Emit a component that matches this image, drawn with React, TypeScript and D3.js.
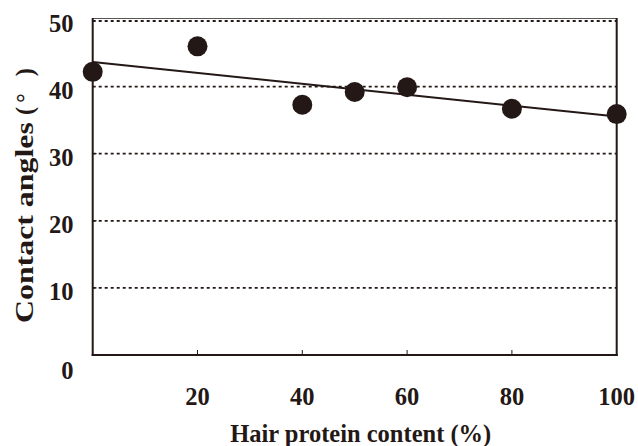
import React from "react";
import * as d3 from "d3";

const proteinContent = [0, 20, 40, 50, 60, 80, 100];
const contactAngles = [42.2, 46.0, 37.3, 39.2, 39.9, 36.7, 35.9];
const yTicks = [0, 10, 20, 30, 40, 50];
const xTicks = [20, 40, 60, 80, 100];
const gridValues = [10, 20, 30, 40, 50];

const W = 638, H = 446;
const M = { left: 92.7, right: 616.7, top: 19.5, bottom: 355 };
const INK = "#231815";
const FONT = "'Liberation Serif', 'Times New Roman', serif";
const FS = 24.5;
const YSTRETCH = 1.3;

export default function App() {
  const x = d3.scaleLinear().domain([0, 100]).range([M.left, M.right]);
  const y = d3.scaleLinear().domain([0, 50]).range([M.bottom, M.top]);

  const n = proteinContent.length;
  const mx = d3.mean(proteinContent)!;
  const my = d3.mean(contactAngles)!;
  let sxy = 0, sxx = 0;
  for (let i = 0; i < n; i++) {
    sxy += (proteinContent[i] - mx) * (contactAngles[i] - my);
    sxx += (proteinContent[i] - mx) ** 2;
  }
  const slope = sxy / sxx;
  const intercept = my - slope * mx;
  const fit = (v: number) => intercept + slope * v;

  const tProps = { fontFamily: FONT, fontWeight: "bold", fontSize: FS, fill: INK } as const;

  return (
    <svg width={W} height={H} style={{ position: "absolute", left: 0, top: 0 }}>
      <rect x={0} y={0} width={W} height={H} fill="#fff" />
      {gridValues.map((g) => (
        <line key={g} x1={M.left} x2={M.right} y1={y(g) + (g === 50 ? 1.5 : 0)} y2={y(g) + (g === 50 ? 1.5 : 0)}
          stroke={INK} strokeWidth={1.8} strokeDasharray="3,3" />
      ))}
      <line x1={M.left} x2={M.right} y1={M.top - 1} y2={M.top - 1} stroke="#555" strokeWidth={1} />
      <line x1={M.left} x2={M.left} y1={M.top - 1.5} y2={M.bottom + 1} stroke={INK} strokeWidth={2} />
      <line x1={M.left - 1} x2={M.right + 1} y1={M.bottom} y2={M.bottom} stroke={INK} strokeWidth={2} />
      <line x1={M.right} x2={M.right} y1={M.top - 1.5} y2={M.bottom + 1} stroke={INK} strokeWidth={2} />
      {[10, 20, 30].map((t) => (
        <line key={t} x1={M.left} x2={M.left + 4} y1={y(t)} y2={y(t)} stroke={INK} strokeWidth={1} />
      ))}
      {[20, 40, 60, 80].map((t) => (
        <line key={t} x1={x(t)} x2={x(t)} y1={M.bottom} y2={M.bottom - 5} stroke={INK} strokeWidth={1} />
      ))}
      <line x1={x(0)} y1={y(fit(0))} x2={x(100)} y2={y(fit(100))} stroke={INK} strokeWidth={2} />
      {proteinContent.map((p, i) => (
        <circle key={i} cx={x(p)} cy={y(contactAngles[i])} r={10} fill={INK} />
      ))}
      {yTicks.map((t) => (
        <text key={t} x={73.5} y={y(t) + (t === 0 ? 24 : 12)} textAnchor="end" {...tProps}>{t}</text>
      ))}
      {xTicks.map((t) => (
        <text key={t} x={x(t)} y={405} textAnchor="middle" {...tProps}>{t}</text>
      ))}
      <text x={360.7} y={441.5} textAnchor="middle" {...tProps}>
        Hair protein content (%)
      </text>
      <g transform="translate(33,0) rotate(-90)">
        <g transform={`translate(-323,0) scale(${YSTRETCH},1)`}>
          <text x={0} y={0} textAnchor="start" {...tProps}>Contact angles</text>
        </g>
        <text x={-115} y={0} textAnchor="start" {...tProps}>(</text>
        <text x={-103} y={0} textAnchor="start" {...tProps}>°</text>
        <text x={-68} y={0} textAnchor="end" {...tProps}>)</text>
      </g>
    </svg>
  );
}
